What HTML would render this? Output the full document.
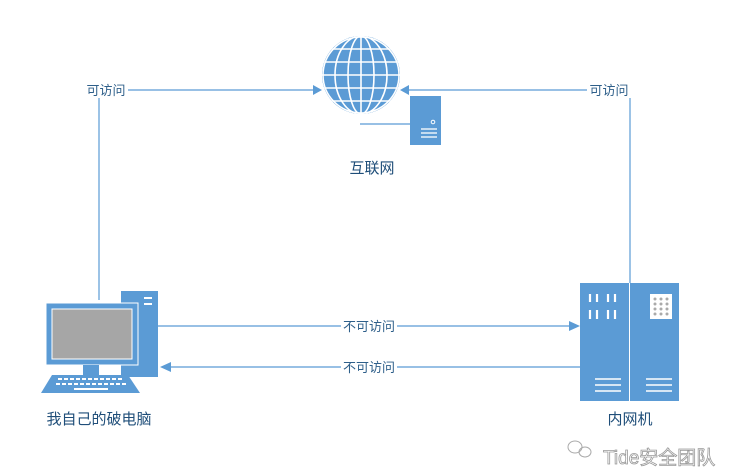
<!DOCTYPE html>
<html><head><meta charset="utf-8"><style>
html,body{margin:0;padding:0;background:#fff;}
svg{display:block;}
text{font-family:"Liberation Sans","Noto Sans CJK SC",sans-serif;}
</style></head><body>
<svg width="733" height="475" viewBox="0 0 733 475" xmlns="http://www.w3.org/2000/svg">
<defs><clipPath id="g"><circle cx="361" cy="75" r="39"/></clipPath></defs>
<g stroke="#5b9bd5" stroke-width="1.2" fill="none">
<polyline points="99,300 99,90 314,90"/>
<polyline points="630,283 630,90 408,90"/>
<line x1="158" y1="326" x2="571" y2="326"/>
<line x1="580" y1="367" x2="169" y2="367"/>
<line x1="360" y1="124" x2="410" y2="124"/>
</g>
<g fill="#5b9bd5">
<polygon points="322,90 313,85 313,95"/>
<polygon points="400,90 409,85 409,95"/>
<polygon points="580,326 569,321 569,331"/>
<polygon points="160,367 171,362 171,372"/>
</g>
<!-- globe -->
<circle cx="361" cy="75" r="39" fill="#5b9bd5"/>
<g clip-path="url(#g)" stroke="#fff" stroke-width="1.6" fill="none">
<line x1="320" y1="49" x2="402" y2="49"/><line x1="320" y1="62" x2="402" y2="62"/>
<line x1="320" y1="75" x2="402" y2="75"/><line x1="320" y1="88" x2="402" y2="88"/>
<line x1="320" y1="101" x2="402" y2="101"/>
<line x1="361" y1="36" x2="361" y2="114"/>
<ellipse cx="361" cy="75" rx="13" ry="39"/><ellipse cx="361" cy="75" rx="26" ry="39"/>
<circle cx="361" cy="75" r="38"/>
</g>
<rect x="410" y="96" width="31" height="49" fill="#5b9bd5"/>
<circle cx="433" cy="122" r="1.8" fill="none" stroke="#fff"/>
<g stroke="#fff" stroke-width="1.3"><line x1="421" y1="129" x2="437" y2="129"/><line x1="421" y1="133" x2="437" y2="133"/><line x1="421" y1="137" x2="437" y2="137"/></g>
<!-- computer -->
<rect x="121" y="291" width="37" height="86" fill="#5b9bd5"/>
<g stroke="#fff" stroke-width="2"><line x1="144" y1="298" x2="152" y2="298"/><line x1="144" y1="304" x2="152" y2="304"/></g>
<rect x="46" y="303" width="92" height="62" fill="#5b9bd5" stroke="#fff" stroke-width="1"/>
<rect x="52" y="309" width="80" height="50" fill="#a6a6a6" stroke="#fff" stroke-width="1"/>
<rect x="83" y="365" width="16" height="10" fill="#5b9bd5"/>
<polygon points="52,375 128,375 140,393 41,393" fill="#5b9bd5"/>
<g stroke="#fff" stroke-width="2" stroke-dasharray="4,2"><line x1="58" y1="379" x2="124" y2="379"/><line x1="56" y1="384" x2="128" y2="384"/></g>
<line x1="74" y1="389" x2="108" y2="389" stroke="#fff" stroke-width="2"/>
<!-- server -->
<rect x="580" y="283" width="99" height="118" fill="#5b9bd5"/>
<line x1="629.5" y1="283" x2="629.5" y2="401" stroke="#fff" stroke-width="1"/>
<g stroke="#fff" stroke-width="2.2">
<line x1="590" y1="294" x2="590" y2="302"/><line x1="597" y1="294" x2="597" y2="302"/><line x1="608" y1="294" x2="608" y2="302"/><line x1="615" y1="294" x2="615" y2="302"/>
<line x1="590" y1="310" x2="590" y2="319"/><line x1="597" y1="310" x2="597" y2="319"/><line x1="608" y1="310" x2="608" y2="319"/><line x1="615" y1="310" x2="615" y2="319"/>
</g>
<g stroke="#fff" stroke-width="1.5">
<line x1="595" y1="379" x2="621" y2="379"/><line x1="595" y1="385" x2="621" y2="385"/><line x1="595" y1="391" x2="621" y2="391"/>
<line x1="646" y1="379" x2="672" y2="379"/><line x1="646" y1="385" x2="672" y2="385"/><line x1="646" y1="391" x2="672" y2="391"/>
</g>
<rect x="650" y="294" width="22" height="25" fill="#fff"/>
<g fill="#aaa"><circle cx="655" cy="299" r="1.5"/><circle cx="661" cy="299" r="1.5"/><circle cx="667" cy="299" r="1.5"/><circle cx="655" cy="304" r="1.5"/><circle cx="661" cy="304" r="1.5"/><circle cx="667" cy="304" r="1.5"/><circle cx="655" cy="309" r="1.5"/><circle cx="661" cy="309" r="1.5"/><circle cx="667" cy="309" r="1.5"/><circle cx="655" cy="314" r="1.5"/><circle cx="661" cy="314" r="1.5"/><circle cx="667" cy="314" r="1.5"/></g>
<!-- labels -->
<g font-size="13" fill="#2e5f8a">
<rect x="84" y="82" width="44" height="16" fill="#fff"/>
<text x="106" y="95" text-anchor="middle">可访问</text>
<rect x="587" y="82" width="44" height="16" fill="#fff"/>
<text x="609" y="95" text-anchor="middle">可访问</text>
<rect x="341" y="318" width="56" height="16" fill="#fff"/>
<text x="369" y="331" text-anchor="middle">不可访问</text>
<rect x="341" y="359" width="56" height="16" fill="#fff"/>
<text x="369" y="372" text-anchor="middle">不可访问</text>
</g>
<g font-size="15" fill="#1f4e79">
<text x="372" y="173" text-anchor="middle">互联网</text>
<text x="99" y="424" text-anchor="middle">我自己的破电脑</text>
<text x="630" y="424" text-anchor="middle">内网机</text>
</g>
<text x="603" y="464" font-size="19" fill="#fff" stroke="#999" stroke-width="0.8">Tide安全团队</text>
<g fill="none" stroke="#aaa" stroke-width="1"><ellipse cx="575" cy="447" rx="7" ry="6"/><ellipse cx="585" cy="452" rx="6" ry="5"/></g>
</svg>
</body></html>
